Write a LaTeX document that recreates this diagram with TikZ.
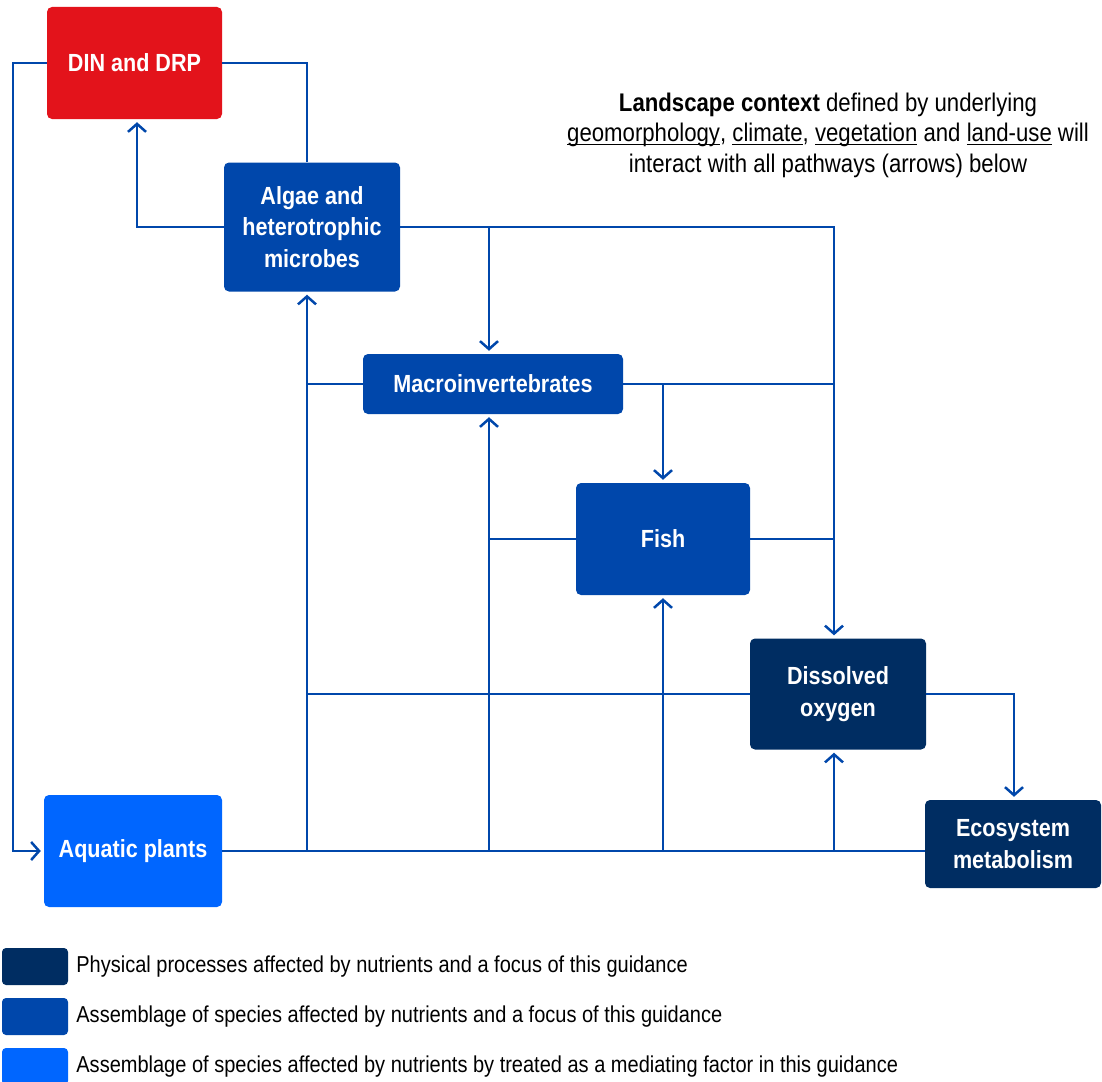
\documentclass[tikz,border=0pt]{standalone}
\usepackage{fontspec}
\setmainfont{Liberation Sans}[FakeStretch=0.87]
\usetikzlibrary{arrows.meta,positioning}
\definecolor{dinred}{HTML}{E3131B}
\definecolor{focusblue}{HTML}{0047AB}
\definecolor{physnavy}{HTML}{002D62}
\definecolor{plantblue}{HTML}{0066FF}
\newcommand{\uword}[1]{\setbox0\hbox{#1}\rlap{\rule[-3.5pt]{\wd0}{1.3pt}}\box0\relax}

\begin{document}
\begin{tikzpicture}[x=1pt,y=-1pt,
  box/.style={rounded corners=5pt,inner sep=0pt,align=center,text=white,
    font=\fontsize{24.8}{31.5}\selectfont\bfseries},
  key/.style={rounded corners=4pt,inner sep=0pt,minimum width=66pt,minimum height=37pt},
  keytext/.style={right=8pt of #1,inner sep=0pt,font=\fontsize{23}{28}\selectfont},
  link/.style={draw=focusblue,line width=2.5pt},
  arr/.style={link,-{Straight Barb[length=8pt,width=18pt]},shorten >=3pt}]
\useasboundingbox (0,0) rectangle (1102,1081);
% boxes
\node[box,fill=dinred,minimum width=175pt,minimum height=112pt] (din) at (134.5,63) {DIN and DRP};
\node[box,fill=focusblue,minimum width=176pt,minimum height=129pt] (algae) at (312,227) {Algae and\\heterotrophic\\microbes};
\node[box,fill=focusblue,minimum width=260pt,minimum height=60pt] (macro) at (493,384) {Macroinvertebrates};
\node[box,fill=focusblue,minimum width=174pt,minimum height=112pt] (fish) at (663,539) {Fish};
\node[box,fill=physnavy,minimum width=176pt,minimum height=111pt] (dox) at (838,694) {Dissolved\\oxygen};
\node[box,fill=physnavy,minimum width=176pt,minimum height=88pt] (eco) at (1013,844) {Ecosystem\\metabolism};
\node[box,fill=plantblue,minimum width=178pt,minimum height=112pt] (aqua) at (133,851) {Aquatic plants};
% landscape note
\node[align=center,font=\fontsize{25.5}{30.5}\selectfont] (context) at (828,135)
  {\textbf{Landscape context} defined by underlying\\
   \uword{geomorphology}, \uword{climate}, \uword{vegetation} and \uword{land-use} will\\
   interact with all pathways (arrows) below};
% columns of the connectors
\coordinate (xa) at (13,0);
\coordinate (xb) at (137,0);
\coordinate (xc) at (307,0);
\coordinate (xd) at (489,0);
\coordinate (xe) at (663,0);
\coordinate (xf) at (834,0);
\coordinate (xg) at (1014,0);
% connectors
\draw[arr] (din.west) -| (xa |- aqua.west) -- (aqua.west);
\draw[link] (din.east) -| (algae.north -| xc);
\draw[arr] (algae.west) -| (din.south -| xb);
\draw[arr] (algae.east) -| (dox.north -| xf);
\draw[arr] (algae.east -| xd) -- (macro.north -| xd);
\draw[link] (macro.west) -- (macro.west -| xc);
\draw[link] (macro.east) -- (macro.east -| xf);
\draw[arr] (macro.east -| xe) -- (fish.north);
\draw[link] (fish.west) -- (fish.west -| xd);
\draw[link] (fish.east) -- (fish.east -| xf);
\draw[link] (dox.west) -- (dox.west -| xc);
\draw[arr] (dox.east) -| (eco.north -| xg);
\draw[link] (aqua.east) -- (aqua.east -| eco.west);
\draw[arr] (aqua.east -| xc) -- (algae.south -| xc);
\draw[arr] (aqua.east -| xd) -- (macro.south -| xd);
\draw[arr] (aqua.east -| xe) -- (fish.south);
\draw[arr] (aqua.east -| xf) -- (dox.south -| xf);
% legend
\node[key,fill=physnavy] (key1) at (35,966.5) {};
\node[key,fill=focusblue] (key2) at (35,1016.5) {};
\node[key,fill=plantblue] (key3) at (35,1066.5) {};
\node[keytext=key1] (lab1) {Physical processes affected by nutrients and a focus of this guidance};
\node[keytext=key2] (lab2) {Assemblage of species affected by nutrients and a focus of this guidance};
\node[keytext=key3] (lab3) {Assemblage of species affected by nutrients by treated as a mediating factor in this guidance};
\end{tikzpicture}
\end{document}
